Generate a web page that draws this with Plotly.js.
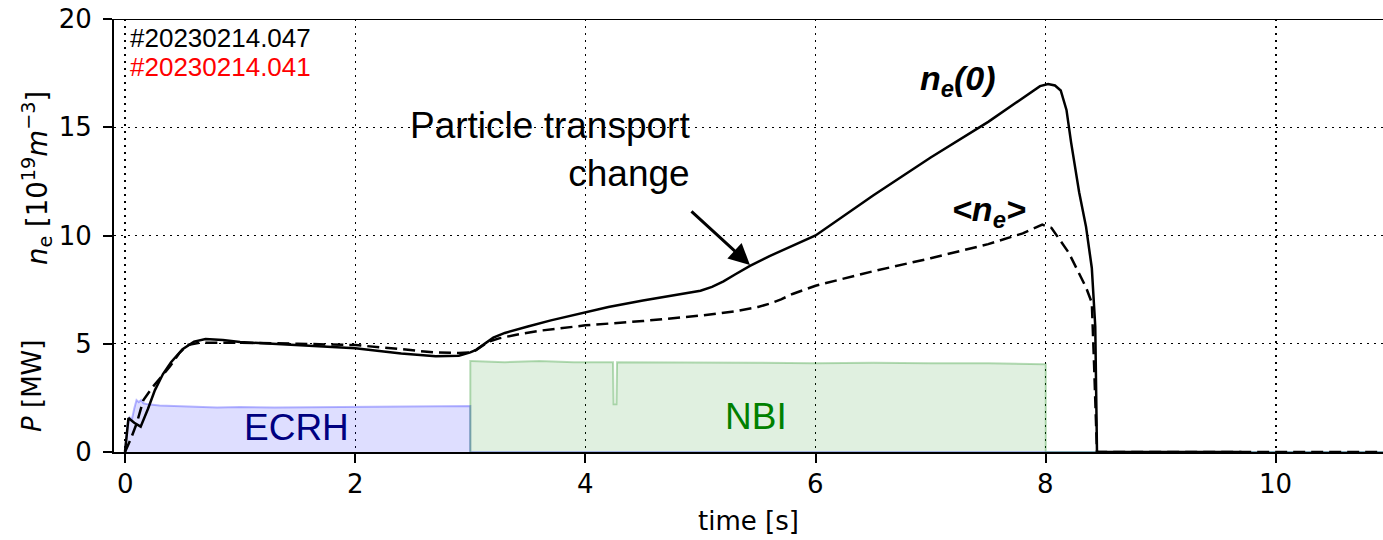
<!DOCTYPE html>
<html>
<head>
<meta charset="utf-8">
<script src="https://cdn.plot.ly/plotly-3.0.1.min.js"></script>
<style>html,body{margin:0;padding:0;background:#fff;}#chart{width:1383px;height:540px;}</style>
</head>
<body>
<div id="chart"></div>
<script>
// ---- data ----
const ecrhT = [0, 0.02, 0.04, 0.06, 0.08, 0.1, 0.12, 0.14, 0.16, 0.2, 0.3, 0.5, 0.8, 1.0, 1.3, 1.6, 2.0, 2.3, 2.6, 2.9, 2.99, 3.0, 3.0, 10.93];
const ecrhP = [0, 1.2, 1.6, 1.5, 2.0, 2.4, 2.3, 2.4, 2.25, 2.2, 2.15, 2.1, 2.05, 2.08, 2.05, 2.07, 2.08, 2.1, 2.1, 2.12, 2.12, 2.12, 0, 0];

const nbiT = [3.0, 3.0, 3.01, 3.3, 3.6, 3.9, 4.2, 4.24, 4.245, 4.27, 4.275, 4.32, 4.6, 5.0, 5.5, 6.0, 6.5, 7.0, 7.5, 7.99, 8.0, 8.0, 10.93];
const nbiP = [0, 4.2, 4.2, 4.15, 4.2, 4.15, 4.15, 4.15, 2.2, 2.2, 4.15, 4.15, 4.12, 4.12, 4.12, 4.1, 4.12, 4.1, 4.1, 4.05, 4.05, 0, 0];

const ne0T = [0, 0.015, 0.03, 0.08, 0.136, 0.2, 0.26, 0.33, 0.4, 0.5, 0.6, 0.7, 0.85, 1.0, 1.5, 2.0, 2.4, 2.7, 2.9, 3.0, 3.05, 3.1, 3.15, 3.2, 3.3, 3.4, 3.5, 3.7, 3.95, 4.2, 4.5, 4.8, 5.0, 5.1, 5.2, 5.3, 5.43, 5.6, 5.8, 6.0, 6.5, 7.0, 7.5, 7.8, 7.95, 8.02, 8.08, 8.13, 8.18, 8.22, 8.29, 8.35, 8.40, 8.43, 8.445, 9.7];
const ne0V = [0, 0.9, 1.57, 1.35, 1.17, 2.0, 2.86, 3.6, 4.15, 4.75, 5.1, 5.22, 5.17, 5.08, 4.94, 4.79, 4.55, 4.42, 4.45, 4.6, 4.72, 4.92, 5.12, 5.28, 5.5, 5.66, 5.8, 6.08, 6.4, 6.7, 7.0, 7.25, 7.45, 7.63, 7.88, 8.2, 8.6, 9.05, 9.52, 10.0, 11.85, 13.6, 15.25, 16.35, 16.9, 17.0, 16.93, 16.7, 15.8, 14.3, 12.0, 10.4, 8.5, 5.8, 0, 0];

const neAvgT = [0, 0.05, 0.1, 0.16, 0.24, 0.32, 0.39, 0.47, 0.54, 0.65, 0.8, 1.0, 1.5, 2.0, 2.4, 2.68, 2.9, 3.0, 3.05, 3.1, 3.16, 3.25, 3.4, 3.6, 4.0, 4.5, 5.0, 5.3, 5.5, 5.6, 5.7, 5.8, 5.9, 6.0, 6.2, 6.5, 7.0, 7.5, 7.8, 7.97, 8.05, 8.2, 8.35, 8.4, 8.42, 8.445, 10.93];
const neAvgV = [0, 0.6, 1.3, 2.4, 3.0, 3.5, 3.95, 4.55, 4.94, 5.05, 5.06, 5.05, 5.0, 4.94, 4.75, 4.6, 4.57, 4.6, 4.7, 4.9, 5.1, 5.25, 5.42, 5.6, 5.85, 6.05, 6.3, 6.5, 6.7, 6.85, 7.05, 7.3, 7.5, 7.68, 7.95, 8.35, 8.95, 9.6, 10.1, 10.5, 10.35, 9.2, 7.6, 6.9, 4.0, 0, 0];

const xTicks = [0, 2, 4, 6, 8, 10];
const xTickText = ['0', '2', '4', '6', '8', '10'];
const yTicks = [0, 5, 10, 15, 20];

const DJ = 'DejaVu Sans, sans-serif';
const LS = 'Liberation Sans, Arial, sans-serif';

const traces = [
  {x: ecrhT, y: ecrhP, type: 'scatter', mode: 'lines', fill: 'tozeroy',
   line: {color: 'rgba(0,0,255,0.28)', width: 2}, fillcolor: 'rgba(0,0,255,0.13)', hoverinfo: 'skip'},
  {x: nbiT, y: nbiP, type: 'scatter', mode: 'lines', fill: 'tozeroy',
   line: {color: 'rgba(0,128,0,0.28)', width: 2}, fillcolor: 'rgba(0,128,0,0.12)', hoverinfo: 'skip'},
  {x: neAvgT, y: neAvgV, type: 'scatter', mode: 'lines',
   line: {color: 'black', width: 2.5, dash: '12px,6px'}},
  {x: ne0T, y: ne0V, type: 'scatter', mode: 'lines',
   line: {color: 'black', width: 2.5}}
];

const gridStyle = {showgrid: true, gridcolor: 'black', gridwidth: 1.3, griddash: '2px,5px', zeroline: false};

// x tick labels placed under their ticks through the x scale
const xTickAnns = xTicks.map((v, i) => ({
  xref: 'x', yref: 'paper', x: v, y: 0, yanchor: 'middle', yshift: -32,
  text: xTickText[i], showarrow: false, font: {family: DJ, size: 26, color: 'black'}
}));

const layout = {
  width: 1383, height: 540,
  margin: {l: 114, r: 0, t: 19, b: 88},
  paper_bgcolor: 'white', plot_bgcolor: 'white',
  showlegend: false,
  xaxis: Object.assign({}, gridStyle, {
    range: [-0.0956, 10.93], tickvals: xTicks, showticklabels: false,
    ticks: 'outside', ticklen: 9, tickwidth: 2, tickcolor: 'black',
    showline: true, linecolor: 'black', linewidth: 2,
    title: {text: 'time [s]', font: {family: DJ, size: 26, color: 'black'}, standoff: 50}
  }),
  yaxis: Object.assign({}, gridStyle, {
    range: [0, 20], tickvals: yTicks, ticktext: yTicks.map(String),
    ticks: 'outside', ticklen: 9, tickwidth: 2, tickcolor: 'black',
    showline: true, linecolor: 'black', linewidth: 2, ticklabelstandoff: 6,
    tickfont: {family: DJ, size: 26, color: 'black'}
  }),
  shapes: [
    {type: 'line', xref: 'paper', yref: 'y', x0: 0, x1: 1, y0: 20, y1: 20, line: {color: 'black', width: 2}}
  ],
  annotations: xTickAnns.concat([
    {xref: 'paper', yref: 'y', x: 0, xshift: -99, y: 3.05, text: '<i>P</i> [MW]', textangle: -90,
     showarrow: false, font: {family: DJ, size: 26, color: 'black'}},
    {xref: 'paper', yref: 'y', x: 0, xshift: -99, y: 12.66, text: '<i>n</i><sub>e</sub> [10<sup>19</sup><i>m</i><sup>−3</sup>]', textangle: -90,
     showarrow: false, font: {family: DJ, size: 27.5, color: 'black'}},
    {xref: 'x', yref: 'y', x: 0.026, y: 19.1, xanchor: 'left', yanchor: 'middle', text: '#20230214.047',
     showarrow: false, font: {family: LS, size: 26, color: 'black'}},
    {xref: 'x', yref: 'y', x: 0.026, y: 17.78, xanchor: 'left', yanchor: 'middle', text: '#20230214.041',
     showarrow: false, font: {family: LS, size: 26, color: 'red'}},
    {xref: 'x', yref: 'y', x: 4.926, y: 13.95, xanchor: 'right', yanchor: 'middle', align: 'right',
     text: 'Particle transport<br>change', showarrow: false, font: {family: LS, size: 37, color: 'black'}},
    {xref: 'x', yref: 'y', x: 5.43, y: 8.64, text: '', showarrow: true, arrowhead: 2, arrowsize: 1.4,
     arrowwidth: 3, arrowcolor: 'black', ax: -60, ay: -55, standoff: 0},
    {xref: 'x', yref: 'y', x: 7.24, y: 17.18, text: '<b><i>n<sub>e</sub>(0)</i></b>',
     showarrow: false, font: {family: LS, size: 34, color: 'black'}},
    {xref: 'x', yref: 'y', x: 7.51, y: 11.1, text: '<b><i>&lt;n<sub>e</sub>&gt;</i></b>',
     showarrow: false, font: {family: LS, size: 34, color: 'black'}},
    {xref: 'x', yref: 'y', x: 1.486, y: 1.11, text: 'ECRH',
     showarrow: false, font: {family: LS, size: 37, color: '#000080'}},
    {xref: 'x', yref: 'y', x: 5.48, y: 1.66, text: 'NBI',
     showarrow: false, font: {family: LS, size: 37, color: '#008000'}}
  ])
};

Plotly.newPlot('chart', traces, layout, {staticPlot: true, displayModeBar: false});
</script>
</body>
</html>
